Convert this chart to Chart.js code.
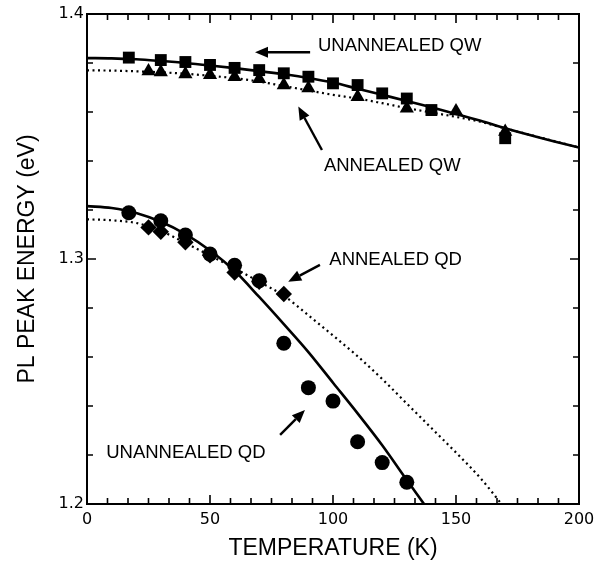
<!DOCTYPE html>
<html><head><meta charset="utf-8">
<script src="https://cdn.jsdelivr.net/npm/chart.js@4/dist/chart.umd.min.js"></script>
<style>html,body{margin:0;padding:0;background:#fff}</style>
</head><body>
<canvas id="c" width="608" height="580"></canvas>
<script>
// ---- data ----
const qwUnannealedT = [17, 30, 40, 50, 60, 70, 80, 90, 100, 110, 120, 130, 140, 170];
const qwUnannealedE = [1.3822, 1.3812, 1.3804, 1.3792, 1.3780, 1.3771, 1.3758, 1.3744, 1.3717, 1.3710, 1.3676, 1.3655, 1.3608, 1.3493];
const qwAnnealedT = [25, 30, 40, 50, 60, 70, 80, 90, 110, 130, 150, 170];
const qwAnnealedE = [1.3767, 1.3763, 1.3755, 1.3751, 1.3743, 1.3735, 1.3710, 1.3697, 1.3662, 1.3615, 1.3603, 1.3520];
const qdUnannealedT = [17, 30, 40, 50, 60, 70, 80, 90, 100, 110, 120, 130];
const qdUnannealedE = [1.3189, 1.3156, 1.3098, 1.3020, 1.2974, 1.2911, 1.2656, 1.2475, 1.2420, 1.2254, 1.2169, 1.2089];
const qdAnnealedT = [25, 30, 40, 50, 60, 70, 80];
const qdAnnealedE = [1.3129, 1.3111, 1.3068, 1.3015, 1.2945, 1.2907, 1.2857];

// fitted curves
const qwSolidT = [0, 10, 20, 30, 40, 50, 60, 70, 80, 90, 100, 110, 120, 130, 140, 150, 160, 170, 180, 190, 200];
const qwSolidE = [1.3820, 1.3819, 1.3815, 1.3808, 1.3800, 1.3790, 1.3779, 1.3767, 1.3754, 1.3739, 1.3720, 1.3695, 1.3670, 1.3645, 1.3619, 1.3592, 1.3564, 1.3534, 1.3506, 1.3480, 1.3455];
const qwDotT = [0, 10, 20, 30, 40, 50, 60, 70, 80, 90, 100, 110, 120, 130, 140, 150, 160, 170, 180, 190, 200];
const qwDotE = [1.3770, 1.3769, 1.3766, 1.3762, 1.3756, 1.3748, 1.3738, 1.3724, 1.3706, 1.3688, 1.3670, 1.3655, 1.3636, 1.3616, 1.3598, 1.3580, 1.3560, 1.3533, 1.3507, 1.3481, 1.3455];
const qdSolidT = [0, 10, 20, 30, 40, 50, 60, 70, 80, 90, 100, 110, 120, 130, 137];
const qdSolidE = [1.3216, 1.3208, 1.3188, 1.3152, 1.3102, 1.3035, 1.2952, 1.2845, 1.2734, 1.2620, 1.2495, 1.2370, 1.2240, 1.2098, 1.2000];
const qdDotT = [0, 10, 20, 30, 40, 50, 60, 70, 80, 90, 100, 110, 120, 130, 140, 150, 160, 168.5];
const qdDotE = [1.3162, 1.3158, 1.3147, 1.3115, 1.3065, 1.3014, 1.2962, 1.2907, 1.2850, 1.2770, 1.2688, 1.2603, 1.2510, 1.2410, 1.2310, 1.2210, 1.2105, 1.2000];

// tick labels
const xTickValues = [0, 50, 100, 150, 200];
const yTickValues = [1.2, 1.3, 1.4];

const xy = (xs, ys) => xs.map((x, i) => ({x, y: ys[i]}));

const annotations = [
  {text: 'UNANNEALED QW', x: 93.9, y: 1.3869, arrow: [90.7, 1.3844, 68.3, 1.3844]},
  {text: 'ANNEALED QW', x: 96.3, y: 1.3380, arrow: [95.5, 1.3445, 85.9, 1.3622]},
  {text: 'ANNEALED QD', x: 98.5, y: 1.2996, arrow: [94.7, 1.2976, 81.8, 1.2907]},
  {text: 'UNANNEALED QD', x: 7.8, y: 1.2208, arrow: [78.5, 1.2282, 88.6, 1.2384]}
];

const framePlugin = {
  id: 'frame',
  afterDraw(chart) {
    const {ctx, chartArea: a, scales: {x, y}} = chart;
    ctx.save();
    ctx.strokeStyle = '#000';
    ctx.lineWidth = 2;
    ctx.strokeRect(a.left, a.top, a.right - a.left, a.bottom - a.top);
    ctx.lineWidth = 1.6;
    // x ticks: major every 50, 6 minor intervals between majors
    for (let i = 0; i <= 24; i++) {
      const v = i * 50 / 6;
      const px = x.getPixelForValue(v);
      const len = (i % 6 === 0) ? 9 : 6;
      ctx.beginPath();
      ctx.moveTo(px, a.bottom); ctx.lineTo(px, a.bottom - len);
      ctx.moveTo(px, a.top); ctx.lineTo(px, a.top + len);
      ctx.stroke();
    }
    for (let i = 0; i <= 10; i++) {
      const v = 1.2 + i * 0.02;
      const py = y.getPixelForValue(v);
      const len = (i % 5 === 0) ? 9 : 6;
      ctx.beginPath();
      ctx.moveTo(a.left, py); ctx.lineTo(a.left + len, py);
      ctx.moveTo(a.right, py); ctx.lineTo(a.right - len, py);
      ctx.stroke();
    }
    // annotations
    ctx.fillStyle = '#000';
    ctx.font = '18.5px "Liberation Sans", Arial, sans-serif';
    ctx.textBaseline = 'middle';
    ctx.textAlign = 'left';
    ctx.lineWidth = 2.4;
    for (const an of annotations) {
      ctx.fillText(an.text, x.getPixelForValue(an.x), y.getPixelForValue(an.y));
      const [x0, y0, x1, y1] = an.arrow;
      const px0 = x.getPixelForValue(x0), py0 = y.getPixelForValue(y0);
      const px1 = x.getPixelForValue(x1), py1 = y.getPixelForValue(y1);
      const ang = Math.atan2(py1 - py0, px1 - px0);
      const hl = 13, hw = 5.5;
      const bx = px1 - Math.cos(ang) * hl, by = py1 - Math.sin(ang) * hl;
      ctx.beginPath();
      ctx.moveTo(px0, py0); ctx.lineTo(bx, by);
      ctx.stroke();
      ctx.beginPath();
      ctx.moveTo(px1, py1);
      ctx.lineTo(bx + Math.sin(ang) * hw, by - Math.cos(ang) * hw);
      ctx.lineTo(bx - Math.sin(ang) * hw, by + Math.cos(ang) * hw);
      ctx.closePath();
      ctx.fill();
    }
    ctx.restore();
  }
};

const curve = (xs, ys, dotted) => ({
  type: 'scatter', data: xy(xs, ys), showLine: true, pointRadius: 0, pointHoverRadius: 0,
  borderColor: '#000', borderWidth: dotted ? 2.2 : 2.6, borderDash: dotted ? [2, 3.5] : [],
  cubicInterpolationMode: 'monotone', order: 2, fill: false
});
const marks = (xs, ys, style, r) => ({
  type: 'scatter', data: xy(xs, ys), showLine: false, pointStyle: style, pointRadius: r,
  pointHoverRadius: r, backgroundColor: '#000', borderColor: '#000', borderWidth: 0, order: 1
});

new Chart(document.getElementById('c'), {
  type: 'scatter',
  data: {
    datasets: [
      curve(qwSolidT, qwSolidE, false),
      curve(qwDotT, qwDotE, true),
      curve(qdSolidT, qdSolidE, false),
      curve(qdDotT, qdDotE, true),
      marks(qwAnnealedT, qwAnnealedE, 'triangle', 8.2),
      marks(qwUnannealedT, qwUnannealedE, 'rect', 8.4),
      marks(qdAnnealedT, qdAnnealedE, 'rectRot', 8.2),
      marks(qdUnannealedT, qdUnannealedE, 'circle', 7.5)
    ]
  },
  options: {
    responsive: false, animation: false,
    layout: {padding: {left: 0, right: 29, top: 14, bottom: 0}},
    plugins: {legend: {display: false}, tooltip: {enabled: false}},
    scales: {
      x: {
        type: 'linear', min: 0, max: 200,
        afterFit: s => { s.height = 76; },
        afterBuildTicks: s => { s.ticks = xTickValues.map(v => ({value: v})); },
        grid: {display: false, drawTicks: false}, border: {display: false},
        ticks: {color: '#000', font: {family: '"DejaVu Sans", sans-serif', size: 16}, padding: 6, maxRotation: 0},
        title: {display: true, text: 'TEMPERATURE (K)', color: '#000', font: {family: '"Liberation Sans", Arial, sans-serif', size: 23}, padding: {top: 0, bottom: 18}}
      },
      y: {
        type: 'linear', min: 1.2, max: 1.4,
        afterFit: s => { s.width = 87; },
        afterBuildTicks: s => { s.ticks = yTickValues.map(v => ({value: v})); },
        grid: {display: false, drawTicks: false}, border: {display: false},
        ticks: {color: '#000', font: {family: '"DejaVu Sans", sans-serif', size: 16}, padding: 3, callback: v => v.toFixed(1)},
        title: {display: true, text: 'PL PEAK ENERGY (eV)', color: '#000', font: {family: '"Liberation Sans", Arial, sans-serif', size: 23}, padding: {top: 14, bottom: 0}}
      }
    }
  },
  plugins: [framePlugin]
});
</script>
</body></html>
